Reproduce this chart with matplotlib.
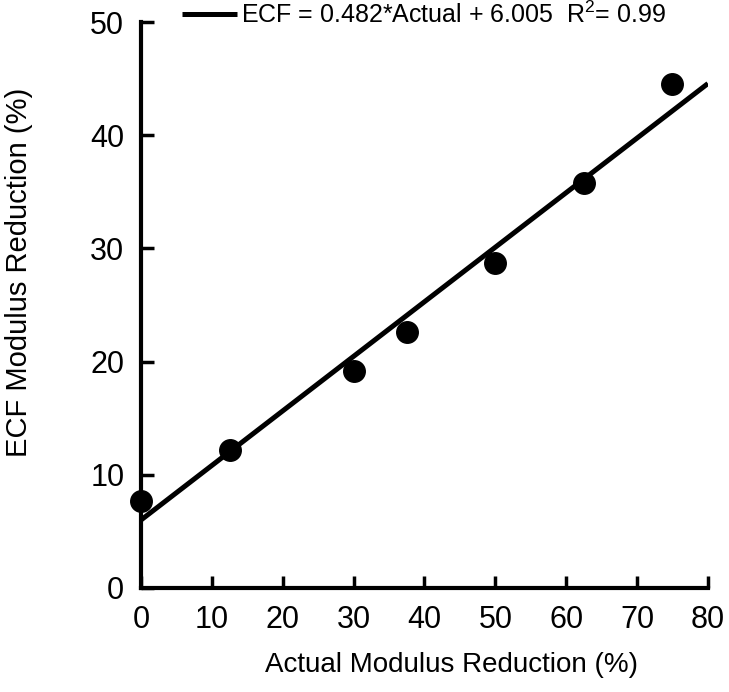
import numpy as np
import matplotlib
matplotlib.use("Agg")
import matplotlib.pyplot as plt

# ── Data ──────────────────────────────────────────────────────────────────────
actual = [0, 12.5, 30, 37.5, 50, 62.5, 75]
ecf    = [7.7, 12.2, 19.2, 22.6, 28.7, 35.8, 44.5]

slope, intercept = 0.482, 6.005
fit_x = np.array([0, 80])
fit_label = r"ECF = 0.482*Actual + 6.005  R$^{2}$= 0.99"

x_ticks = [0, 10, 20, 30, 40, 50, 60, 70, 80]
y_ticks = [0, 10, 20, 30, 40, 50]

# ── Style ─────────────────────────────────────────────────────────────────────
plt.rcParams.update({
    "font.family": ["Liberation Sans", "DejaVu Sans"],
    "mathtext.fontset": "custom",
    "mathtext.rm": "Liberation Sans",
    "font.size": 20,
})

fig = plt.figure(figsize=(7.29, 6.92), dpi=100)
ax = fig.add_axes([0.1934, 0.1503, 0.7777, 0.8179])

line, = ax.plot(fit_x, slope * fit_x + intercept, color="black", lw=3.6,
                solid_capstyle="butt", zorder=2)
ax.plot(actual, ecf, "o", color="black", ms=15.5, zorder=3, clip_on=False)

ax.set_xlim(0, 80)
ax.set_ylim(0, 50)
ax.set_xticks(x_ticks)
ax.set_yticks(y_ticks)

for side in ["top", "right"]:
    ax.spines[side].set_visible(False)
for side in ["left", "bottom"]:
    ax.spines[side].set_linewidth(3)

ax.tick_params(direction="in", length=9, width=2.5, labelsize=22, pad=12)
ax.set_xlabel("Actual Modulus Reduction (%)", fontsize=20)
ax.set_ylabel("ECF Modulus Reduction (%)", fontsize=21)
ax.xaxis.set_label_coords(0.548, -0.113)
ax.yaxis.set_label_coords(-0.19, 0.558)

fig.legend([line], [fit_label], loc="center left",
           bbox_to_anchor=(182 / 729, 1 - 15 / 692), frameon=False,
           handlelength=2.2, handletextpad=0.15, fontsize=18,
           borderaxespad=0, borderpad=0)

fig.savefig("out.png", dpi=100)
